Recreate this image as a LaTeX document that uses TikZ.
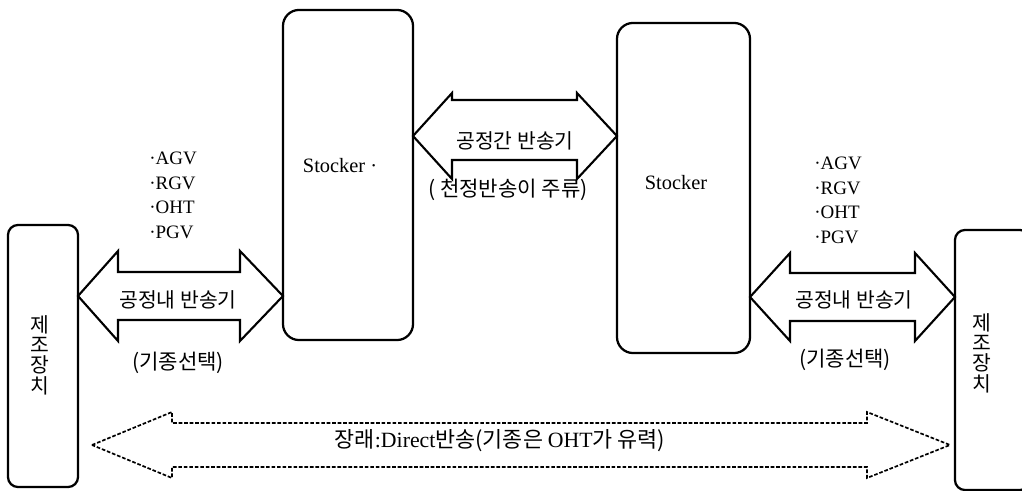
\documentclass[tikz,border=0pt]{standalone}
\usepackage{fontspec}
\setmainfont{Liberation Serif}
\newfontfamily\kr{Noto Sans CJK KR}
\usetikzlibrary{calc}
\begin{document}
\begin{tikzpicture}[x=0.025cm,y=-0.025cm,
  stockerbox/.style={draw,line width=1.6pt,rounded corners=0.4cm,inner sep=0pt,outer sep=0pt},
  eqbox/.style={draw,line width=1.6pt,rounded corners=0.25cm,inner sep=0pt,outer sep=0pt},
  blockarrow/.style={draw,line width=1.5pt,line join=miter},
  futurearrow/.style={draw,line width=1.2pt,dash pattern=on 2.6pt off 1.3pt,line join=miter},
  krtext/.style={font=\kr\fontsize{14.5}{16}\selectfont,inner sep=0pt},
  krsub/.style={font=\kr\fontsize{15}{16}\selectfont,inner sep=0pt},
  lattext/.style={font=\fontsize{14.5}{16}\selectfont,inner sep=0pt},
  bottomtext/.style={font=\fontsize{15.5}{17}\selectfont,inner sep=0pt},
  vtext/.style={font=\kr\fontsize{14.5}{14.4}\selectfont,align=center,inner sep=0pt},
  listtext/.style={font=\fontsize{13.5}{17.4}\selectfont,align=left,inner sep=0pt,anchor=north west}
]
\useasboundingbox (0,0) rectangle (1022,491);

% boxes
\node[eqbox,minimum width=1.75cm,minimum height=6.55cm] (eqL) at (43,356) {};
\node[stockerbox,minimum width=3.25cm,minimum height=8.25cm] (stL) at (348,175) {};
\node[stockerbox,minimum width=3.325cm,minimum height=8.25cm] (stR) at (683.5,188) {};
\node[eqbox,minimum width=1.875cm,minimum height=6.5cm] (eqR) at (992.5,360) {};

% box texts
\node[vtext] (eqLt) at (40,355) {제\\조\\장\\치};
\node[vtext] (eqRt) at (982,353) {제\\조\\장\\치};
\node[lattext] (stLt) at (340,166) {Stocker ·};
\node[lattext] (stRt) at (676,183) {Stocker};

% intra-process arrow (left)
\coordinate (a1l) at (eqL.east |- 0,296);
\coordinate (a1r) at (stL.west |- 0,296);
\draw[blockarrow] (a1l) -- ++(40,-45) -- ++(0,21) -- ($(a1r)+(-43,-24)$) -- ++(0,-21) -- (a1r)
  -- ++(-43,45) -- ++(0,-21) -- ($(a1l)+(40,24)$) -- ++(0,21) -- cycle;
\node[krtext] (a1t) at (178,300) {공정내 반송기};
\node[krsub] (a1s) at (178,363) {(기종선택)};
\node[listtext] (l1) at (149,152) {·AGV\\·RGV\\·OHT\\·PGV};

% inter-process arrow
\coordinate (a2l) at (stL.east |- 0,136);
\coordinate (a2r) at (stR.west |- 0,136);
\draw[blockarrow] (a2l) -- ++(39,-43) -- ++(0,7) -- ($(a2r)+(-40,-36)$) -- ++(0,-7) -- (a2r)
  -- ++(-40,43) -- ++(0,-19) -- ($(a2l)+(39,24)$) -- ++(0,19) -- cycle;
\node[krtext] (a2t) at (515,141) {공정간 반송기};
\node[krsub] (a2s) at (508,190) {( 천정반송이 주류)};

% intra-process arrow (right)
\coordinate (a3l) at (stR.east |- 0,297);
\coordinate (a3r) at (eqR.west |- 0,297);
\draw[blockarrow] (a3l) -- ++(40,-44) -- ++(0,20) -- ($(a3r)+(-40,-24)$) -- ++(0,-20) -- (a3r)
  -- ++(-40,44) -- ++(0,-20) -- ($(a3l)+(40,24)$) -- ++(0,20) -- cycle;
\node[krtext] (a3t) at (854,300) {공정내 반송기};
\node[krsub] (a3s) at (845,360) {(기종선택)};
\node[listtext] (l2) at (814,157) {·AGV\\·RGV\\·OHT\\·PGV};

% future direct transfer (dashed)
\coordinate (a4l) at ($(eqL.east |- 0,445)+(14,0)$);
\coordinate (a4r) at ($(eqR.west |- 0,445)+(-5,0)$);
\draw[futurearrow] (a4l) -- ++(80,-33) -- ++(0,11) -- ($(a4r)+(-83,-22)$) -- ++(0,-11) -- (a4r)
  -- ++(-83,33) -- ++(0,-11) -- ($(a4l)+(80,22)$) -- ++(0,11) -- cycle;
\node[bottomtext] (a4t) at (500,441) {{\kr 장래}:Direct{\kr 반송(기종은 }OHT{\kr 가 유력)}};
\end{tikzpicture}
\end{document}
